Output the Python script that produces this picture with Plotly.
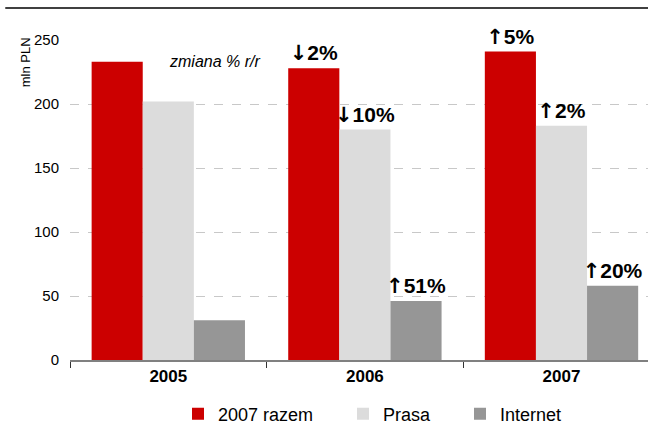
import plotly.graph_objects as go

years = ["2005", "2006", "2007"]
razem = [233, 228, 241]
prasa = [202, 180, 183]
internet = [31, 46, 58]

UP = '<span style="font-family:DejaVu Sans">\u2191</span>'
DOWN = '<span style="font-family:DejaVu Sans">\u2193</span>'
razem_chg = ["", DOWN + "2%", UP + "5%"]
prasa_chg = ["", DOWN + "10%", UP + "2%"]
internet_chg = ["", UP + "51%", UP + "20%"]

series = [
    ("2007 razem", razem, razem_chg, "#CC0000", "legend", 178),
    ("Prasa", prasa, prasa_chg, "#DCDCDC", "legend2", 343),
    ("Internet", internet, internet_chg, "#969696", "legend3", 460),
]

fig = go.Figure()
for name, vals, chg, color, leg, _ in series:
    fig.add_trace(go.Bar(
        name=name, x=years, y=vals, marker=dict(color=color, line=dict(width=0)),
        text=chg, textposition="outside", constraintext="none", cliponaxis=False,
        textfont=dict(family="Liberation Sans, Arial", size=21, color="black", weight="bold"),
        legend=leg, showlegend=True,
    ))

legend_style = dict(
    orientation="h", xref="container", yref="container", y=11 / 425,
    xanchor="left", yanchor="middle", font=dict(size=18), itemwidth=30,
    bgcolor="rgba(0,0,0,0)", visible=True,
)

fig.update_layout(
    width=648, height=425, showlegend=True,
    margin=dict(l=70, r=0, t=40, b=65, autoexpand=False),
    paper_bgcolor="white", plot_bgcolor="white",
    barmode="group", bargap=0.22, bargroupgap=0,
    font=dict(family="Liberation Sans, Arial", color="black"),
    xaxis=dict(
        range=[-0.5, 2.44], showgrid=False, showline=True, linecolor="#808080", linewidth=2,
        ticks="outside", tickson="boundaries", ticklen=6, tickcolor="#333333",
        tickfont=dict(size=17, weight="bold"),
    ),
    yaxis=dict(
        range=[0, 250], tickvals=[0, 50, 100, 150, 200, 250],
        showgrid=True, gridcolor="#C8C8C8", griddash="dash", gridwidth=1,
        zeroline=False, showline=False, ticks="", ticklabelstandoff=10,
        tickfont=dict(size=15),
    ),
    shapes=[dict(type="line", xref="paper", yref="paper", x0=-0.112, x1=1.0,
                 y0=1.1, y1=1.1, line=dict(color="black", width=1.5))],
    annotations=[
        dict(text="zmiana % r/r", xref="x", yref="y", x=-0.005, y=233, xanchor="left",
             yanchor="middle", showarrow=False,
             font=dict(size=16, style="italic")),
        dict(text="mln PLN", xref="paper", yref="paper", x=-0.078, y=0.93, textangle=-90,
             xanchor="center", yanchor="middle", showarrow=False, font=dict(size=13)),
    ],
)
for name, _, _, _, leg, lx in series:
    fig.update_layout({leg: dict(legend_style, x=lx / 648)})

fig.write_html("out.html")
